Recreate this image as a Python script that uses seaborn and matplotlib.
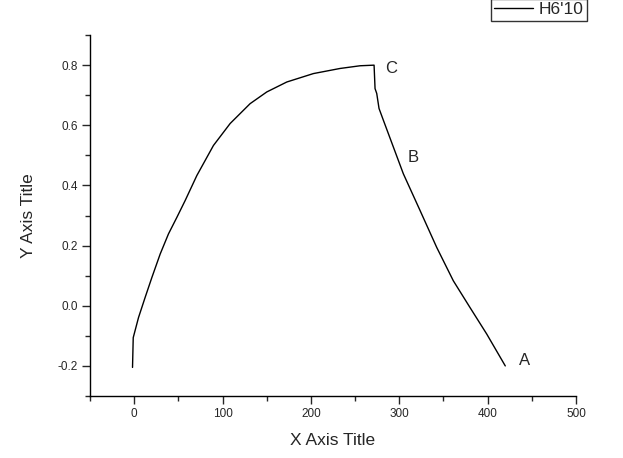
import matplotlib
matplotlib.use('Agg')
import matplotlib.pyplot as plt
import seaborn as sns
import numpy as np
import pandas as pd
from matplotlib.ticker import MultipleLocator

# Curve (charge branch then discharge branch)
x_vals = [-1.9, -1.1, 4.9, 12.4, 20.0, 29.4, 38.8, 48.3, 57.7, 70.9, 89.7, 108.6, 131.2,
          150.1, 172.7, 202.8, 233.0, 255.7, 271.5,
          272.6, 274.5, 277.1, 282.0, 293.3, 304.6, 323.5, 342.4, 361.2, 380.1, 399.0, 420.0]
y_vals = [-0.205, -0.106, -0.039, 0.028, 0.094, 0.172, 0.239, 0.294, 0.35, 0.433, 0.533,
          0.606, 0.672, 0.711, 0.744, 0.772, 0.789, 0.798, 0.8,
          0.722, 0.706, 0.656, 0.617, 0.528, 0.439, 0.317, 0.194, 0.083, -0.006, -0.094, -0.2]
series_name = "H6'10"

point_labels = ['C', 'B', 'A']
label_x = [284, 310, 436]
label_y = [0.79, 0.493, -0.183]

df = pd.DataFrame({'x': x_vals, 'y': y_vals, 'series': series_name})

sns.set_style('ticks')
plt.rcParams['font.family'] = ['Liberation Sans', 'DejaVu Sans']

fig = plt.figure(figsize=(6.23, 4.58), dpi=100)
ax = fig.add_axes([0.1445, 0.1354, 0.780, 0.788])

sns.lineplot(data=df, x='x', y='y', hue='series', palette=['black'], sort=False,
             estimator=None, linewidth=1.0, ax=ax, legend=True)

for lab, lx, ly in zip(point_labels, label_x, label_y):
    ax.text(lx, ly, lab, fontsize=12, ha='left', va='center')

ax.set_xlim(-50, 500)
ax.set_ylim(-0.3, 0.9)
ax.xaxis.set_major_locator(MultipleLocator(100))
ax.xaxis.set_minor_locator(MultipleLocator(50))
ax.yaxis.set_minor_locator(MultipleLocator(0.1))
ax.set_yticks([-0.2, 0.0, 0.2, 0.4, 0.6, 0.8])
ax.set_yticklabels(['-0.2', '0.0', '0.2', '0.4', '0.6', '0.8'])
ax.tick_params(which='major', length=5.5, width=1, labelsize=8.5, direction='out')
ax.tick_params(which='minor', length=3.5, width=1, direction='out')

sns.despine(ax=ax)
for s in ['left', 'bottom']:
    ax.spines[s].set_linewidth(1.0)
    ax.spines[s].set_color('black')

ax.set_xlabel('X Axis Title', fontsize=12.5, labelpad=9)
ax.set_ylabel('Y Axis Title', fontsize=12.5, labelpad=15)

# legend sits above the plot, top edge clipped by the figure border
handles, labels = ax.get_legend_handles_labels()
ax.get_legend().remove()
leg = fig.legend(handles, labels, loc='upper right', bbox_to_anchor=(0.942, 1.003),
                 fontsize=12.5, frameon=True, fancybox=False, handlelength=2.25,
                 borderpad=0.2, handletextpad=0.3, borderaxespad=0)
leg.get_frame().set_edgecolor('black')
leg.get_frame().set_linewidth(1.0)

fig.savefig('out.png', dpi=100)
